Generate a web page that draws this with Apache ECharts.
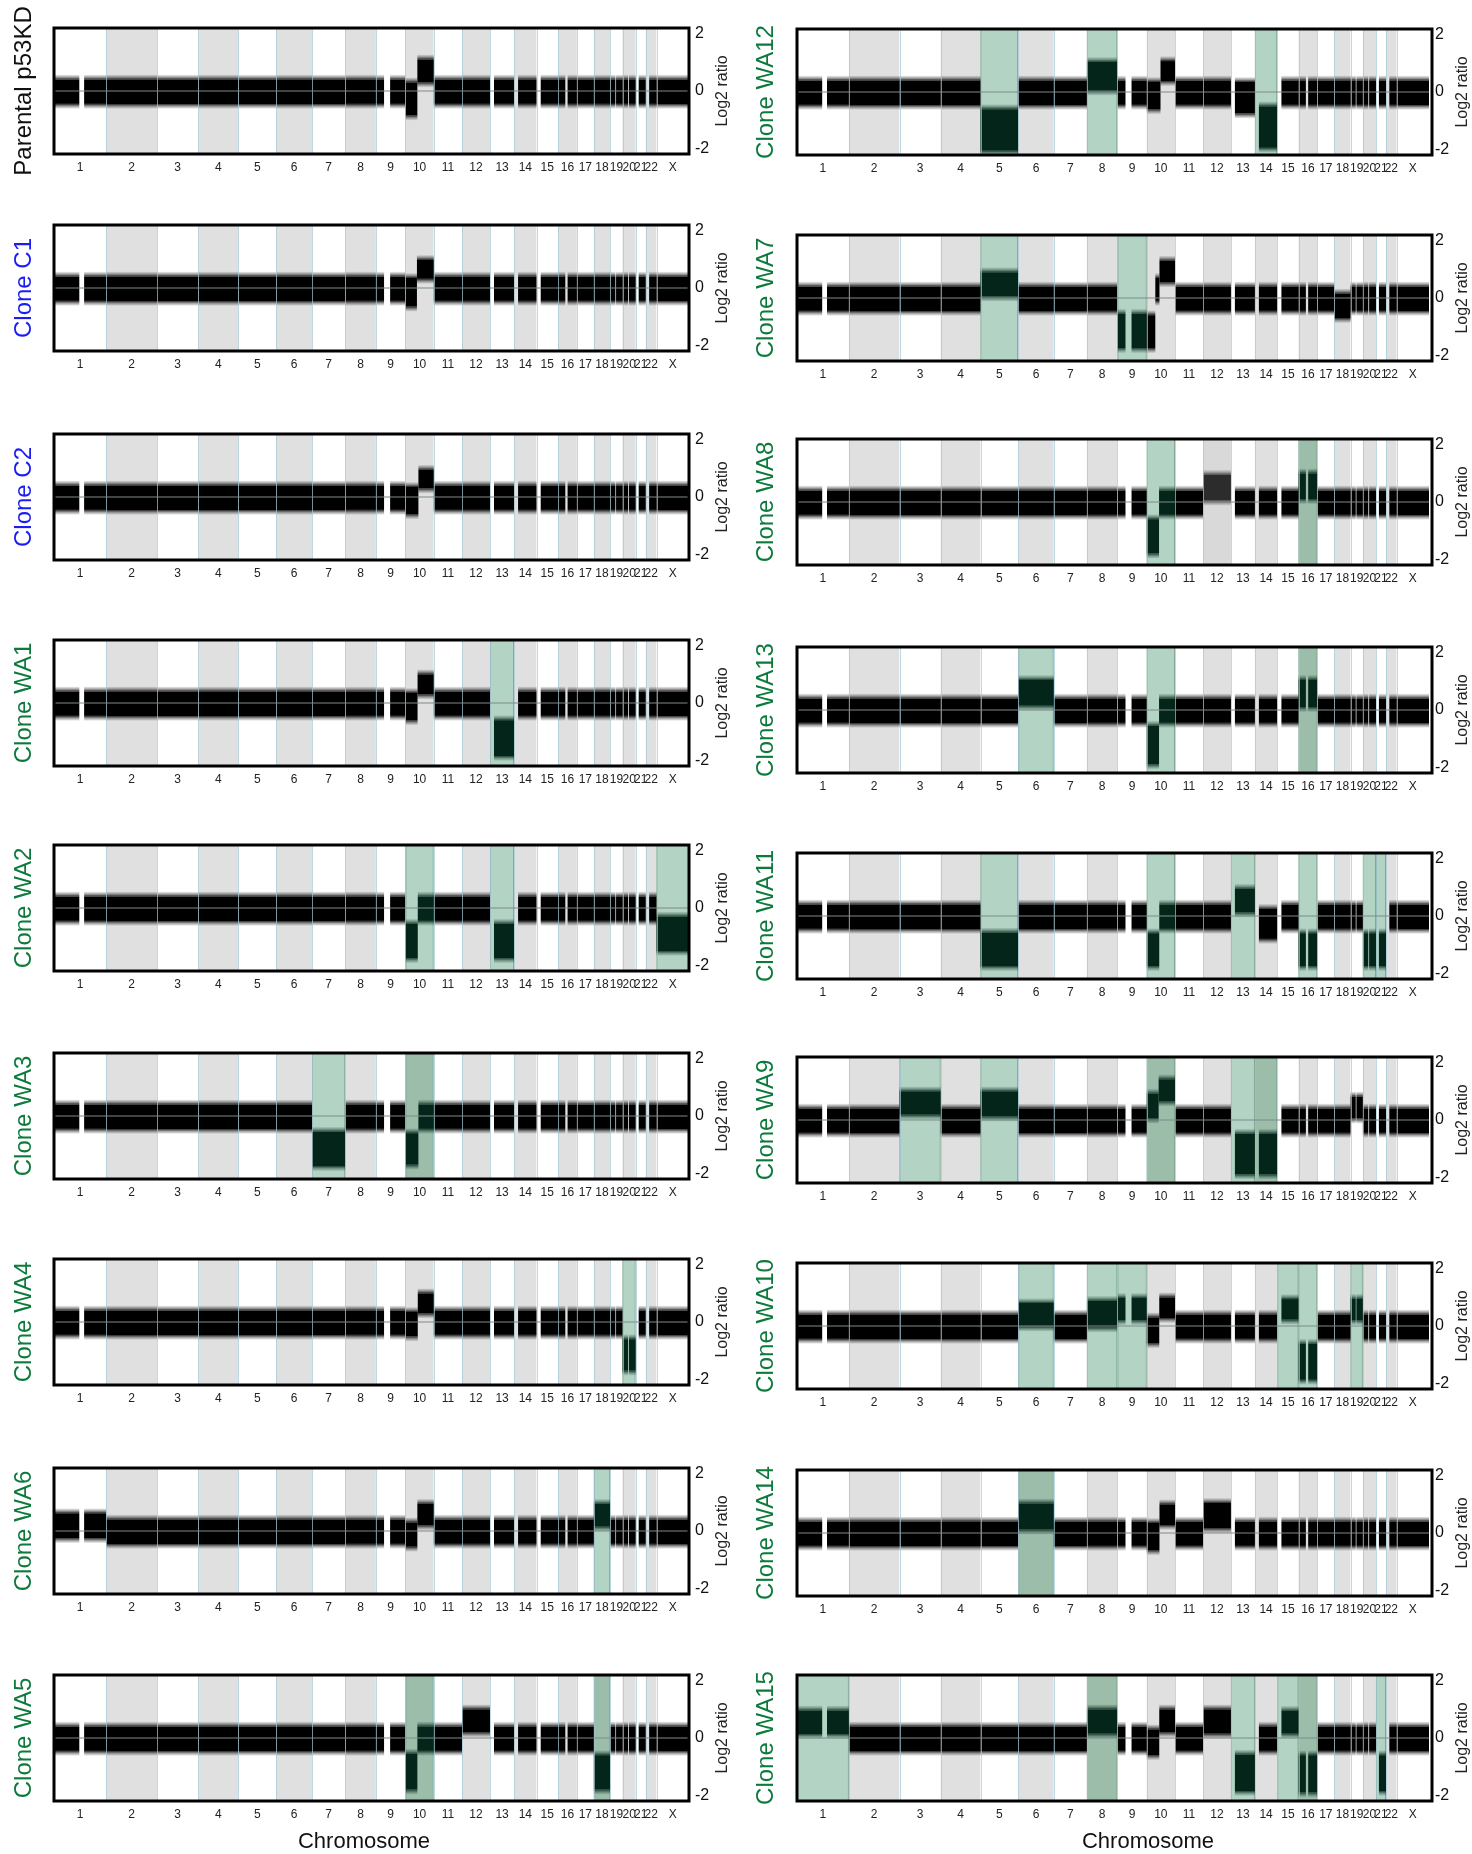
<!DOCTYPE html>
<html>
<head>
<meta charset="utf-8">
<script src="https://cdn.jsdelivr.net/npm/echarts@6/dist/echarts.min.js"></script>
<style>
  html, body { margin: 0; padding: 0; background: #fff; }
  #chart { width: 1472px; height: 1854px; }
</style>
</head>
<body>
<div id="chart"></div>
<script>
  // chromosomes and their lengths (Mb)
  var chromNames = ['1', '2', '3', '4', '5', '6', '7', '8', '9', '10', '11', '12', '13', '14', '15', '16', '17', '18', '19', '20', '21', '22', 'X'];
  var chromLengths = [249.3, 243.2, 198.0, 191.2, 180.9, 171.1, 159.1, 146.4, 141.2, 135.5, 135.0, 133.9, 115.2, 107.3, 102.5, 90.4, 81.2, 78.1, 59.1, 63.0, 48.1, 51.3, 155.3];

  // regions with no probes (centromeres, acrocentric arms), Mb within chromosome
  var dataGaps = [['1', 121, 144], ['9', 39, 68], ['13', 0, 19], ['14', 0, 19], ['15', 0, 20], ['16', 35, 46], ['19', 25, 28], ['20', 26, 30], ['21', 0, 14], ['22', 0, 16]];

  // spread of the log2 ratio cloud for a normal copy number [low, high]
  var normalBand = [-0.45, 0.4];

  // panels, in reading order (left column then right column)
  var panelNames = ['Parental p53KD', 'Clone C1', 'Clone C2', 'Clone WA1', 'Clone WA2', 'Clone WA3', 'Clone WA4', 'Clone WA6', 'Clone WA5',
    'Clone WA12', 'Clone WA7', 'Clone WA8', 'Clone WA13', 'Clone WA11', 'Clone WA9', 'Clone WA10', 'Clone WA14', 'Clone WA15'];
  var panelGroup = ['parental', 'control', 'control', 'clone', 'clone', 'clone', 'clone', 'clone', 'clone',
    'clone', 'clone', 'clone', 'clone', 'clone', 'clone', 'clone', 'clone', 'clone'];

  // altered segments: panel, chromosome, start Mb, end Mb, cloud low, cloud high
  var cnvSegments = [
    ['Parental p53KD', '10', 0, 57, -0.85, 0.3], ['Parental p53KD', '10', 57, 135.5, 0.3, 1.1],
    ['Clone C1', '10', 0, 55, -0.65, 0.35], ['Clone C1', '10', 55, 135.5, 0.32, 0.98],
    ['Clone C2', '10', 0, 62, -0.6, 0.35], ['Clone C2', '10', 62, 135.5, 0.3, 0.95],
    ['Clone WA1', '10', 0, 58, -0.6, 0.35], ['Clone WA1', '10', 58, 135.5, 0.3, 1.0], ['Clone WA1', '13', 0, 115.2, -1.85, -0.6],
    ['Clone WA2', '10', 0, 59, -1.75, -0.55], ['Clone WA2', '13', 0, 115.2, -1.75, -0.55], ['Clone WA2', 'X', 0, 155.3, -1.5, -0.3],
    ['Clone WA3', '7', 0, 159.1, -1.75, -0.55], ['Clone WA3', '10', 0, 62, -1.7, -0.6],
    ['Clone WA4', '10', 0, 59, -0.5, 0.35], ['Clone WA4', '10', 59, 135.5, 0.3, 1.0], ['Clone WA4', '20', 0, 63, -1.7, -0.6],
    ['Clone WA6', '1', 0, 249.3, -0.25, 0.62], ['Clone WA6', '10', 0, 57, -0.55, 0.3], ['Clone WA6', '10', 57, 135.5, 0.2, 0.95], ['Clone WA6', '18', 0, 78.1, 0.15, 0.95],
    ['Clone WA5', '10', 0, 57, -1.8, -0.55], ['Clone WA5', '12', 0, 133.9, 0.2, 1.0], ['Clone WA5', '18', 0, 78.1, -1.8, -0.6],
    ['Clone WA12', '5', 0, 180.9, -2.05, -0.6], ['Clone WA12', '8', 0, 146.4, 0.05, 1.05], ['Clone WA12', '10', 0, 66, -0.6, 0.35],
    ['Clone WA12', '10', 66, 135.5, 0.38, 1.08], ['Clone WA12', '13', 0, 115.2, -0.75, 0.35], ['Clone WA12', '14', 0, 107.3, -1.95, -0.5],
    ['Clone WA7', '5', 0, 180.9, 0.05, 0.9], ['Clone WA7', '9', 0, 141.2, -1.75, -0.55], ['Clone WA7', '10', 0, 41, -1.75, -0.6],
    ['Clone WA7', '10', 41, 61, -0.1, 0.7], ['Clone WA7', '10', 61, 135.5, 0.55, 1.3], ['Clone WA7', '18', 0, 78.1, -0.7, 0.15],
    ['Clone WA8', '10', 0, 59, -1.8, -0.6], ['Clone WA8', '12', 0, 133.9, 0.05, 0.95], ['Clone WA8', '16', 0, 90.4, 0.1, 1.0],
    ['Clone WA13', '6', 0, 171.1, 0.15, 1.05], ['Clone WA13', '10', 0, 59, -1.9, -0.55], ['Clone WA13', '16', 0, 90.4, 0.1, 1.05],
    ['Clone WA11', '5', 0, 180.9, -1.75, -0.58], ['Clone WA11', '10', 0, 60, -1.75, -0.6], ['Clone WA11', '13', 0, 115.2, 0.12, 0.95],
    ['Clone WA11', '14', 0, 107.3, -0.8, 0.25], ['Clone WA11', '16', 0, 90.4, -1.75, -0.6], ['Clone WA11', '20', 0, 63, -1.75, -0.6],
    ['Clone WA11', '21', 0, 48.1, -1.75, -0.6],
    ['Clone WA9', '3', 0, 198, 0.18, 1.0], ['Clone WA9', '5', 0, 180.9, 0.12, 1.0], ['Clone WA9', '10', 0, 57, 0.05, 0.92],
    ['Clone WA9', '10', 57, 135.5, 0.65, 1.42], ['Clone WA9', '13', 0, 115.2, -1.9, -0.48], ['Clone WA9', '14', 0, 107.3, -1.9, -0.48],
    ['Clone WA9', '19', 0, 59.1, 0.05, 0.82],
    ['Clone WA10', '6', 0, 171.1, -0.02, 0.8], ['Clone WA10', '8', 0, 146.4, -0.05, 0.88], ['Clone WA10', '9', 0, 141.2, 0.2, 0.98],
    ['Clone WA10', '10', 0, 60, -0.6, 0.3], ['Clone WA10', '10', 60, 135.5, 0.28, 1.0], ['Clone WA10', '15', 0, 102.5, 0.22, 0.94],
    ['Clone WA10', '16', 0, 90.4, -1.88, -0.62], ['Clone WA10', '19', 0, 59.1, 0.2, 0.95],
    ['Clone WA14', '6', 0, 171.1, 0.12, 1.03], ['Clone WA14', '10', 0, 61, -0.6, 0.35], ['Clone WA14', '10', 61, 135.5, 0.28, 1.0],
    ['Clone WA14', '12', 0, 133.9, 0.17, 1.05],
    ['Clone WA15', '1', 0, 249.3, 0.14, 0.96], ['Clone WA15', '8', 0, 146.4, 0.15, 1.0], ['Clone WA15', '10', 0, 60, -0.6, 0.3],
    ['Clone WA15', '10', 60, 135.5, 0.2, 1.0], ['Clone WA15', '12', 0, 133.9, 0.15, 1.0], ['Clone WA15', '13', 0, 115.2, -1.85, -0.58],
    ['Clone WA15', '15', 0, 102.5, 0.15, 0.95], ['Clone WA15', '16', 0, 90.4, -1.9, -0.6], ['Clone WA15', '21', 0, 48.1, -1.85, -0.6]
  ];

  // highlighted chromosomes: panel, chromosome, kind (1 light, 2 dark, 3 grey)
  var shadedChroms = [
    ['Clone WA1', '13', 1],
    ['Clone WA2', '10', 1], ['Clone WA2', '13', 1], ['Clone WA2', 'X', 1],
    ['Clone WA3', '7', 1], ['Clone WA3', '10', 2],
    ['Clone WA4', '20', 1],
    ['Clone WA6', '18', 1],
    ['Clone WA5', '10', 2], ['Clone WA5', '18', 2],
    ['Clone WA12', '5', 1], ['Clone WA12', '8', 1], ['Clone WA12', '14', 1],
    ['Clone WA7', '5', 1], ['Clone WA7', '9', 1],
    ['Clone WA8', '10', 1], ['Clone WA8', '12', 3], ['Clone WA8', '16', 2],
    ['Clone WA13', '6', 1], ['Clone WA13', '10', 1], ['Clone WA13', '16', 2],
    ['Clone WA11', '5', 1], ['Clone WA11', '10', 1], ['Clone WA11', '13', 1], ['Clone WA11', '16', 1], ['Clone WA11', '20', 1], ['Clone WA11', '21', 1],
    ['Clone WA9', '3', 1], ['Clone WA9', '5', 1], ['Clone WA9', '10', 2], ['Clone WA9', '13', 1], ['Clone WA9', '14', 2],
    ['Clone WA10', '6', 1], ['Clone WA10', '8', 1], ['Clone WA10', '9', 1], ['Clone WA10', '15', 1], ['Clone WA10', '16', 1], ['Clone WA10', '19', 1],
    ['Clone WA14', '6', 2],
    ['Clone WA15', '1', 1], ['Clone WA15', '8', 2], ['Clone WA15', '13', 1], ['Clone WA15', '15', 1], ['Clone WA15', '16', 2], ['Clone WA15', '21', 1]
  ];

  var yTicks = [-2, 0, 2];

  // ---- layout ----
  var colX = [[54, 689], [797, 1432]];
  var rowTops = [[28, 225, 434, 640, 845, 1053, 1259, 1468, 1675], [29, 235, 439, 647, 853, 1057, 1263, 1470, 1675]];
  var boxH = 126;
  var titleX = [24, 766];
  var titleColor = {parental: '#111111', control: '#1c1cf5', clone: '#0d7a3c'};
  var shadeFill = {1: '#b3d4c4', 2: '#9dbdab', 3: '#d9d9d9'};
  var cloudRGB = {0: '0,0,0', 1: '4,38,26', 2: '4,38,26', 3: '44,44,44'};
  var fuzz = 0.17;

  var chromStart = [];
  var acc = 0;
  chromLengths.forEach(function (l) { chromStart.push(acc); acc += l; });
  var genomeTotal = acc;
  var chromMids = chromNames.map(function (c, i) { return chromStart[i] + chromLengths[i] / 2; });

  function shadeMap(panel) {
    var m = {};
    shadedChroms.forEach(function (r) { if (r[0] === panel) m[r[1]] = r[2]; });
    return m;
  }

  function bandRows(panel) {
    var shade = shadeMap(panel);
    var rows = [];
    chromNames.forEach(function (c, i) {
      var own = cnvSegments.filter(function (r) { return r[0] === panel && r[1] === c; })
        .sort(function (a, b) { return a[2] - b[2]; });
      var pieces = [];
      var pos = 0;
      own.forEach(function (r) {
        if (r[2] > pos) pieces.push([pos, r[2], normalBand[0], normalBand[1]]);
        pieces.push([r[2], r[3], r[4], r[5]]);
        pos = r[3];
      });
      if (pos < chromLengths[i]) pieces.push([pos, chromLengths[i], normalBand[0], normalBand[1]]);
      var gaps = dataGaps.filter(function (g) { return g[0] === c; });
      pieces.forEach(function (p) {
        var segs = [[p[0], p[1]]];
        gaps.forEach(function (g) {
          var next = [];
          segs.forEach(function (s) {
            if (g[2] <= s[0] || g[1] >= s[1]) { next.push(s); return; }
            if (g[1] > s[0]) next.push([s[0], g[1]]);
            if (g[2] < s[1]) next.push([g[2], s[1]]);
          });
          segs = next;
        });
        segs.forEach(function (s) {
          rows.push([chromStart[i] + s[0], chromStart[i] + s[1], p[2], p[3], shade[c] || 0]);
        });
      });
    });
    return rows;
  }

  function backgroundRows(panel) {
    var shade = shadeMap(panel);
    return chromNames.map(function (c, i) {
      return [chromStart[i], chromStart[i] + chromLengths[i], i, shade[c] || 0];
    });
  }

  function renderBackground(params, api) {
    var x0 = api.coord([api.value(0), 0])[0];
    var x1 = api.coord([api.value(1), 0])[0];
    var cs = params.coordSys;
    var kind = api.value(3);
    var fill = api.value(2) % 2 === 1 ? '#e0e0e0' : '#ffffff';
    if (kind) fill = shadeFill[kind];
    var kids = [{type: 'rect', shape: {x: x0, y: cs.y, width: x1 - x0, height: cs.height}, style: {fill: fill}}];
    if (kind === 1 || kind === 2) {
      kids.push({type: 'line', shape: {x1: x0 + 0.5, y1: cs.y, x2: x0 + 0.5, y2: cs.y + cs.height}, style: {stroke: '#7fa894', lineWidth: 1}});
      kids.push({type: 'line', shape: {x1: x1 - 0.5, y1: cs.y, x2: x1 - 0.5, y2: cs.y + cs.height}, style: {stroke: '#7fa894', lineWidth: 1}});
    }
    return {type: 'group', children: kids};
  }

  function fade(rgb, fromAlpha, toAlpha) {
    return {
      type: 'linear', x: 0, y: 0, x2: 0, y2: 1,
      colorStops: [
        {offset: 0, color: 'rgba(' + rgb + ',' + fromAlpha + ')'},
        {offset: 0.5, color: 'rgba(' + rgb + ',' + ((fromAlpha + toAlpha) / 2 * 0.8) + ')'},
        {offset: 1, color: 'rgba(' + rgb + ',' + toAlpha + ')'}
      ]
    };
  }

  function renderBand(params, api) {
    var rgb = cloudRGB[api.value(4)];
    var lo = api.value(2), hi = api.value(3);
    var x0 = api.coord([api.value(0), 0])[0];
    var x1 = api.coord([api.value(1), 0])[0];
    var yHi = api.coord([0, hi])[1], yLo = api.coord([0, lo])[1];
    var yTop = api.coord([0, hi + fuzz])[1], yBot = api.coord([0, lo - fuzz])[1];
    return {
      type: 'group',
      children: [
        {type: 'rect', shape: {x: x0, y: yTop, width: x1 - x0, height: yHi - yTop}, style: {fill: fade(rgb, 0.05, 0.85)}},
        {type: 'rect', shape: {x: x0, y: yHi, width: x1 - x0, height: yLo - yHi}, style: {fill: 'rgb(' + rgb + ')'}},
        {type: 'rect', shape: {x: x0, y: yLo, width: x1 - x0, height: yBot - yLo}, style: {fill: fade(rgb, 0.85, 0.05)}}
      ]
    };
  }

  function renderBounds(params, api) {
    var x = Math.round(api.coord([api.value(0), 0])[0]) + 0.5;
    var cs = params.coordSys;
    return {type: 'line', shape: {x1: x, y1: cs.y, x2: x, y2: cs.y + cs.height}, style: {stroke: '#a5c8d6', lineWidth: 1, opacity: 0.7}};
  }

  var grids = [], xAxes = [], yAxes = [], series = [], graphics = [];

  panelNames.forEach(function (name, k) {
    var col = k < 9 ? 0 : 1;
    var row = k % 9;
    var left = colX[col][0], right = colX[col][1], top = rowTops[col][row];
    grids.push({left: left, top: top, width: right - left, height: boxH});

    xAxes.push({
      type: 'value', gridIndex: k, min: 0, max: genomeTotal,
      axisLine: {show: false}, axisTick: {show: false}, splitLine: {show: false},
      axisLabel: {
        customValues: chromMids, margin: 8,
        fontFamily: "'Liberation Sans Narrow', 'Liberation Sans', sans-serif", fontSize: 12, color: '#222',
        formatter: function (v) {
          for (var i = 0; i < chromMids.length; i++) if (Math.abs(chromMids[i] - v) < 1e-6) return chromNames[i];
          return '';
        }
      }
    });

    yAxes.push({
      type: 'value', gridIndex: k, position: 'right', min: -2.2, max: 2.2,
      axisLine: {show: false}, splitLine: {show: false},
      axisTick: {show: true, customValues: yTicks, length: 4, lineStyle: {color: '#000', width: 1.5}},
      axisLabel: {customValues: yTicks, margin: 6, fontSize: 16, color: '#111', fontFamily: 'Liberation Sans'},
      name: 'Log2 ratio', nameLocation: 'middle', nameRotate: 90, nameGap: 26,
      nameTextStyle: {fontSize: 16, color: '#222', fontFamily: 'Liberation Sans'}
    });

    series.push({
      type: 'custom', xAxisIndex: k, yAxisIndex: k, silent: true, z: 1,
      renderItem: renderBackground, data: backgroundRows(name)
    });
    series.push({
      type: 'custom', xAxisIndex: k, yAxisIndex: k, silent: true, z: 2, clip: true,
      renderItem: renderBand, data: bandRows(name)
    });
    series.push({
      type: 'custom', xAxisIndex: k, yAxisIndex: k, silent: true, z: 3,
      renderItem: renderBounds, data: chromStart.slice(1).map(function (s) { return [s]; })
    });
    series.push({
      type: 'line', xAxisIndex: k, yAxisIndex: k, silent: true, z: 4,
      symbol: 'none', lineStyle: {color: '#7d8a88', width: 1},
      data: [[0, 0], [genomeTotal, 0]]
    });

    graphics.push({
      type: 'rect', z: 100, silent: true,
      shape: {x: left, y: top, width: right - left, height: boxH},
      style: {fill: 'none', stroke: '#000', lineWidth: 3}
    });
    graphics.push({
      type: 'text', z: 100, silent: true,
      x: titleX[col], y: top + boxH / 2, rotation: Math.PI / 2,
      style: {
        text: name, fill: titleColor[panelGroup[k]], fontSize: 24, fontFamily: 'Liberation Sans',
        align: 'center', verticalAlign: 'middle'
      }
    });
  });

  [364, 1148].forEach(function (cx) {
    graphics.push({
      type: 'text', silent: true, x: cx, y: 1842,
      style: {text: 'Chromosome', fill: '#111', fontSize: 22, fontFamily: 'Liberation Sans', align: 'center', verticalAlign: 'middle'}
    });
  });

  var myChart = echarts.init(document.getElementById('chart'), null, {renderer: 'canvas'});
  myChart.setOption({
    animation: false,
    backgroundColor: '#ffffff',
    grid: grids,
    xAxis: xAxes,
    yAxis: yAxes,
    series: series,
    graphic: graphics
  });
</script>
</body>
</html>
